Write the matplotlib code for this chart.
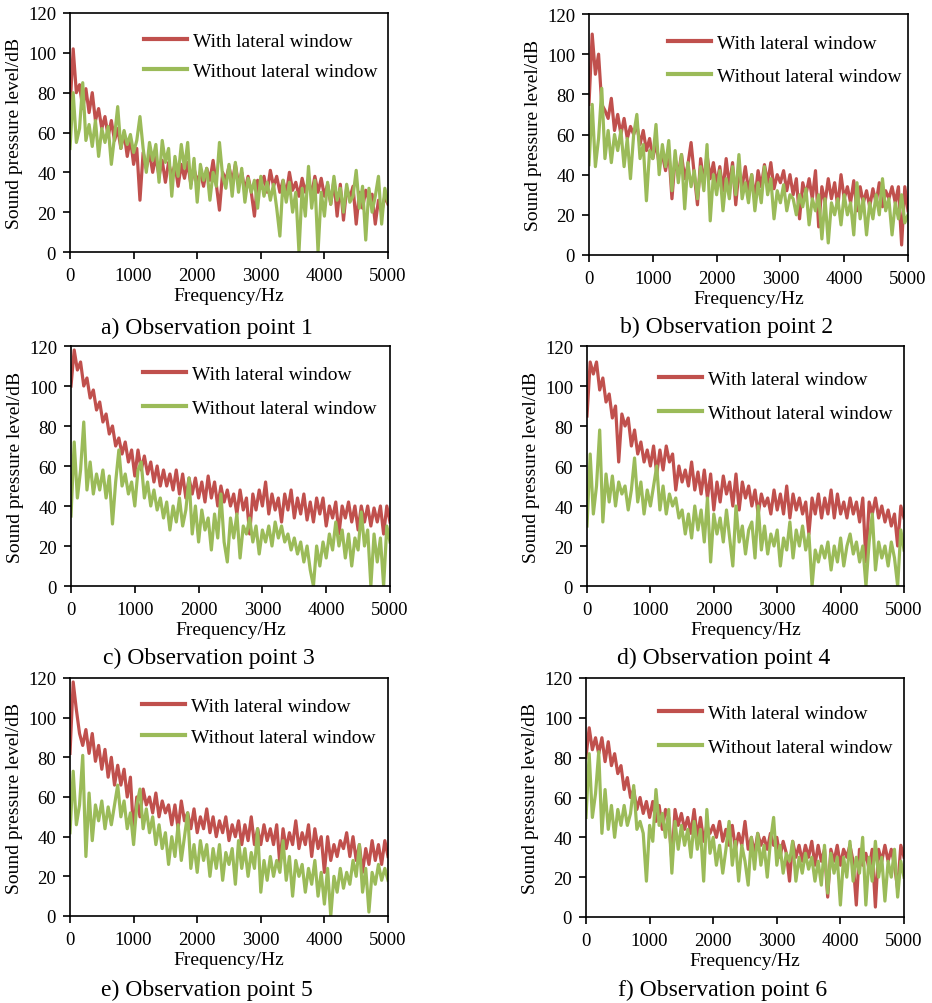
import numpy as np
import matplotlib
matplotlib.use("Agg")
import matplotlib.pyplot as plt


# Constants
X_LABEL = "Frequency/Hz"
Y_LABEL = "Sound pressure level/dB"
LABEL_WITH = "With lateral window"
LABEL_WITHOUT = "Without lateral window"
RED = "#C0504D"
GREEN = "#9BBB59"
FONT = "Liberation Serif"

FREQ = np.arange(0, 5001, 50)

CAPTIONS = ["a) Observation point 1", "b) Observation point 2",
            "c) Observation point 3", "d) Observation point 4",
            "e) Observation point 5", "f) Observation point 6"]

# point 1
A_WITH = [72, 102, 80, 84, 72, 82, 70, 80, 66, 72,
          62, 68, 58, 66, 56, 62, 52, 60, 48, 57,
          44, 52, 26, 50, 42, 50, 40, 48, 38, 46,
          35, 45, 38, 44, 33, 44, 37, 45, 34, 42,
          35, 40, 33, 42, 36, 46, 34, 21, 40, 36,
          43, 35, 44, 34, 40, 31, 38, 30, 18, 36,
          32, 38, 30, 41, 33, 38, 30, 36, 29, 40,
          31, 35, 28, 37, 30, 36, 29, 38, 30, 37,
          28, 34, 24, 36, 18, 34, 16, 32, 27, 33,
          14, 30, 22, 31, 26, 29, 14, 26, 20, 28,
          24]
A_WITHOUT = [52, 80, 55, 62, 85, 56, 64, 53, 66, 48,
             62, 55, 63, 44, 58, 73, 52, 61, 54, 59,
             50, 56, 68, 52, 40, 55, 46, 54, 35, 56,
             45, 52, 28, 48, 38, 54, 42, 55, 32, 47,
             25, 44, 36, 42, 26, 40, 33, 55, 38, 32,
             44, 28, 45, 30, 42, 25, 37, 30, 36, 22,
             38, 28, 35, 26, 34, 22, 8, 36, 25, 35,
             20, 30, 0, 32, 18, 43, 22, 36, 0, 30,
             18, 35, 24, 38, 26, 32, 20, 34, 25, 28,
             41, 22, 33, 6, 32, 20, 28, 38, 14, 32,
             25]

# point 2
B_WITH = [75, 110, 90, 100, 75, 72, 68, 78, 62, 70,
          60, 68, 58, 64, 60, 65, 55, 62, 52, 58,
          48, 56, 45, 50, 42, 52, 28, 48, 40, 50,
          38, 45, 56, 40, 25, 48, 36, 50, 38, 46,
          35, 44, 32, 48, 34, 46, 25, 42, 34, 44,
          32, 40, 28, 42, 34, 45, 36, 46, 33, 40,
          36, 42, 32, 40, 30, 38, 18, 36, 30, 38,
          28, 42, 14, 34, 26, 38, 28, 36, 24, 40,
          28, 34, 26, 37, 22, 34, 26, 32, 24, 33,
          26, 36, 24, 32, 28, 34, 26, 34, 5, 34,
          22]
B_WITHOUT = [45, 75, 44, 58, 83, 48, 62, 46, 60, 52,
             62, 44, 58, 38, 60, 70, 48, 55, 27, 52,
             48, 65, 40, 55, 44, 57, 32, 52, 36, 50,
             23, 46, 34, 42, 28, 44, 32, 55, 17, 40,
             30, 42, 22, 38, 28, 44, 30, 50, 28, 36,
             26, 40, 22, 36, 26, 44, 30, 38, 18, 32,
             26, 35, 22, 30, 28, 20, 30, 24, 33, 15,
             28, 22, 30, 8, 28, 6, 26, 20, 28, 15,
             30, 20, 26, 10, 36, 18, 28, 10, 26, 18,
             30, 20, 38, 22, 28, 10, 26, 18, 30, 16,
             20]

# point 3
C_WITH = [100, 118, 108, 112, 100, 104, 94, 98, 88, 92,
          82, 86, 76, 80, 70, 74, 66, 72, 62, 68,
          55, 68, 58, 65, 56, 62, 52, 60, 50, 58,
          50, 56, 48, 58, 46, 56, 44, 54, 46, 54,
          44, 52, 42, 55, 44, 52, 40, 50, 42, 48,
          40, 46, 36, 48, 38, 44, 26, 46, 38, 48,
          40, 52, 36, 46, 38, 44, 32, 46, 38, 48,
          34, 44, 36, 46, 33, 42, 32, 44, 36, 44,
          30, 40, 34, 42, 26, 40, 34, 42, 32, 40,
          28, 40, 32, 40, 30, 39, 32, 40, 26, 40,
          32]
C_WITHOUT = [35, 72, 44, 58, 82, 48, 62, 46, 56, 48,
             58, 44, 55, 31, 52, 68, 50, 56, 46, 52,
             40, 58, 62, 44, 52, 40, 48, 38, 44, 34,
             42, 28, 40, 32, 44, 30, 38, 54, 26, 40,
             22, 38, 28, 34, 18, 36, 24, 46, 22, 12,
             34, 24, 36, 14, 30, 26, 34, 22, 30, 16,
             28, 22, 30, 20, 32, 24, 30, 22, 26, 18,
             24, 16, 22, 12, 20, 8, 0, 20, 10, 22,
             14, 26, 18, 32, 20, 28, 14, 26, 10, 24,
             18, 37, 20, 28, 0, 26, 12, 24, 0, 30,
             22]

# point 4
D_WITH = [85, 112, 106, 112, 98, 104, 92, 96, 84, 90,
          62, 86, 80, 84, 70, 78, 66, 72, 62, 68,
          60, 70, 56, 68, 58, 70, 62, 66, 48, 60,
          52, 58, 50, 62, 48, 57, 46, 58, 44, 56,
          38, 52, 42, 55, 46, 52, 40, 56, 38, 52,
          44, 50, 40, 48, 36, 46, 40, 44, 36, 48,
          38, 46, 36, 50, 34, 46, 38, 44, 36, 42,
          26, 44, 36, 46, 34, 44, 36, 48, 34, 46,
          36, 42, 34, 44, 36, 42, 32, 44, 12, 42,
          36, 44, 34, 40, 32, 38, 30, 36, 20, 40,
          34]
D_WITHOUT = [30, 66, 36, 50, 78, 32, 56, 42, 55, 40,
             52, 46, 50, 38, 48, 64, 42, 52, 36, 48,
             40, 50, 60, 38, 50, 36, 46, 40, 44, 34,
             38, 26, 36, 24, 40, 28, 38, 22, 44, 12,
             36, 26, 34, 22, 38, 24, 10, 40, 22, 30,
             16, 28, 32, 14, 40, 18, 30, 16, 26, 20,
             28, 10, 24, 18, 32, 14, 28, 20, 30, 18,
             26, 0, 18, 12, 20, 14, 22, 8, 20, 12,
             24, 10, 20, 26, 16, 22, 12, 20, 0, 22,
             36, 8, 22, 14, 20, 10, 22, 14, 0, 28,
             18]

# point 5
E_WITH = [82, 118, 104, 92, 86, 94, 82, 92, 78, 86,
          74, 84, 70, 80, 66, 76, 66, 74, 60, 70,
          42, 60, 50, 64, 56, 60, 52, 62, 50, 58,
          52, 56, 46, 56, 44, 58, 48, 52, 44, 54,
          42, 50, 44, 54, 42, 50, 40, 48, 42, 50,
          38, 46, 40, 48, 36, 46, 38, 50, 36, 44,
          36, 46, 38, 44, 36, 46, 26, 44, 34, 42,
          36, 48, 34, 42, 36, 46, 30, 44, 34, 40,
          22, 40, 28, 36, 30, 38, 34, 42, 30, 40,
          28, 36, 22, 34, 26, 38, 28, 36, 26, 38,
          30]
E_WITHOUT = [42, 73, 46, 56, 81, 30, 62, 38, 56, 48,
             58, 44, 55, 46, 56, 66, 50, 58, 44, 52,
             36, 56, 64, 44, 54, 42, 50, 36, 46, 34,
             42, 26, 40, 30, 46, 28, 40, 52, 24, 36,
             22, 38, 28, 36, 20, 34, 24, 36, 18, 32,
             26, 34, 16, 38, 24, 34, 20, 32, 24, 44,
             12, 28, 18, 30, 20, 28, 22, 38, 18, 30,
             10, 28, 20, 26, 12, 24, 16, 28, 10, 22,
             6, 24, 0, 20, 12, 24, 14, 22, 16, 28,
             20, 36, 12, 24, 2, 22, 16, 26, 18, 24,
             18]

# point 6
F_WITH = [80, 95, 84, 90, 82, 90, 78, 88, 76, 82,
          72, 76, 64, 70, 60, 64, 54, 60, 52, 58,
          50, 58, 48, 56, 44, 54, 50, 28, 54, 46,
          52, 44, 50, 42, 54, 40, 50, 38, 46, 42,
          46, 40, 48, 38, 44, 36, 46, 34, 42, 36,
          48, 34, 40, 32, 42, 36, 40, 34, 42, 36,
          40, 30, 38, 32, 18, 38, 30, 36, 28, 36,
          30, 38, 26, 36, 28, 34, 10, 34, 28, 36,
          26, 34, 30, 36, 28, 6, 34, 26, 32, 24,
          34, 5, 34, 28, 36, 28, 34, 26, 14, 36,
          30]
F_WITHOUT = [50, 82, 50, 62, 83, 42, 64, 44, 56, 40,
             54, 46, 56, 46, 52, 66, 44, 48, 42, 18,
             46, 38, 64, 46, 52, 40, 54, 22, 48, 34,
             46, 36, 44, 30, 48, 34, 44, 18, 54, 32,
             40, 26, 36, 22, 34, 48, 26, 38, 18, 36,
             28, 16, 40, 24, 42, 26, 36, 20, 38, 50,
             26, 36, 22, 32, 28, 38, 18, 30, 22, 32,
             24, 30, 18, 28, 16, 36, 12, 32, 22, 30,
             6, 30, 20, 38, 18, 30, 22, 40, 6, 30,
             18, 38, 20, 30, 8, 28, 20, 34, 10, 28,
             20]

WITH_SERIES = [A_WITH, B_WITH, C_WITH, D_WITH, E_WITH, F_WITH]
WITHOUT_SERIES = [A_WITHOUT, B_WITHOUT, C_WITHOUT, D_WITHOUT, E_WITHOUT, F_WITHOUT]

# layout in pixels: (left, top, right, bottom) of the plot area
W, H = 932, 1004
BOXES = [(70, 14, 388, 253), (589, 15, 908, 256),
         (71, 347, 390, 587), (587, 347, 904, 587),
         (70, 679, 388, 917), (586, 679, 904, 918)]
# legend: handle start (px from axes left), centre of first row (px from axes top), row gap (px)
LEGEND_POS = [(74, 26, 30), (79, 27, 33), (72, 26, 34), (72, 31, 34), (72, 26, 31), (73, 33, 34)]
CAPTION_Y = [328, 327, 658, 658, 990, 990]


def plot_panel(fig, i):
    left, top, right, bottom = BOXES[i]
    w_px, h_px = right - left, bottom - top
    rect = [left / W, 1 - bottom / H, w_px / W, h_px / H]
    ax = fig.add_axes(rect)

    ax.plot(FREQ, WITH_SERIES[i], color=RED, lw=2.3, label=LABEL_WITH)
    ax.plot(FREQ, WITHOUT_SERIES[i], color=GREEN, lw=2.3, label=LABEL_WITHOUT)

    ax.set_xlim(0, 5000)
    ax.set_ylim(0, 120)
    ax.set_xticks(range(0, 5001, 1000))
    ax.set_yticks(range(0, 121, 20))
    ax.tick_params(direction="out", length=5, width=1.2, labelsize=13.5,
                   top=False, right=False)
    ax.tick_params(axis="x", pad=6)
    ax.tick_params(axis="y", pad=5)
    for lab in ax.get_xticklabels() + ax.get_yticklabels():
        lab.set_family(FONT)
    for sp in ax.spines.values():
        sp.set_linewidth(1.2)

    ax.set_xlabel(X_LABEL, family=FONT, fontsize=14, labelpad=2)
    ax.set_ylabel(Y_LABEL, family=FONT, fontsize=14)
    ax.yaxis.set_label_coords(-47 / w_px, 0.5)

    lx, ly, gap = LEGEND_POS[i]
    leg = ax.legend(loc="upper left", frameon=False,
                    bbox_to_anchor=(lx / w_px, 1 - (ly - 7) / h_px),
                    borderaxespad=0, borderpad=0, handlelength=2.2,
                    handletextpad=0.3, labelspacing=(gap - 17.2) / 19.4,
                    prop={"family": FONT, "size": 14})
    for line in leg.get_lines():
        line.set_linewidth(3)

    cx = (left + right) / 2 - 22
    fig.text(cx / W, 1 - CAPTION_Y[i] / H, CAPTIONS[i], family=FONT,
             fontsize=17, ha="center", va="center")
    return ax


def main():
    fig = plt.figure(figsize=(W / 100, H / 100), dpi=100)
    for i in range(6):
        plot_panel(fig, i)
    fig.savefig("out.png", dpi=100)
    plt.close(fig)


if __name__ == "__main__":
    main()
